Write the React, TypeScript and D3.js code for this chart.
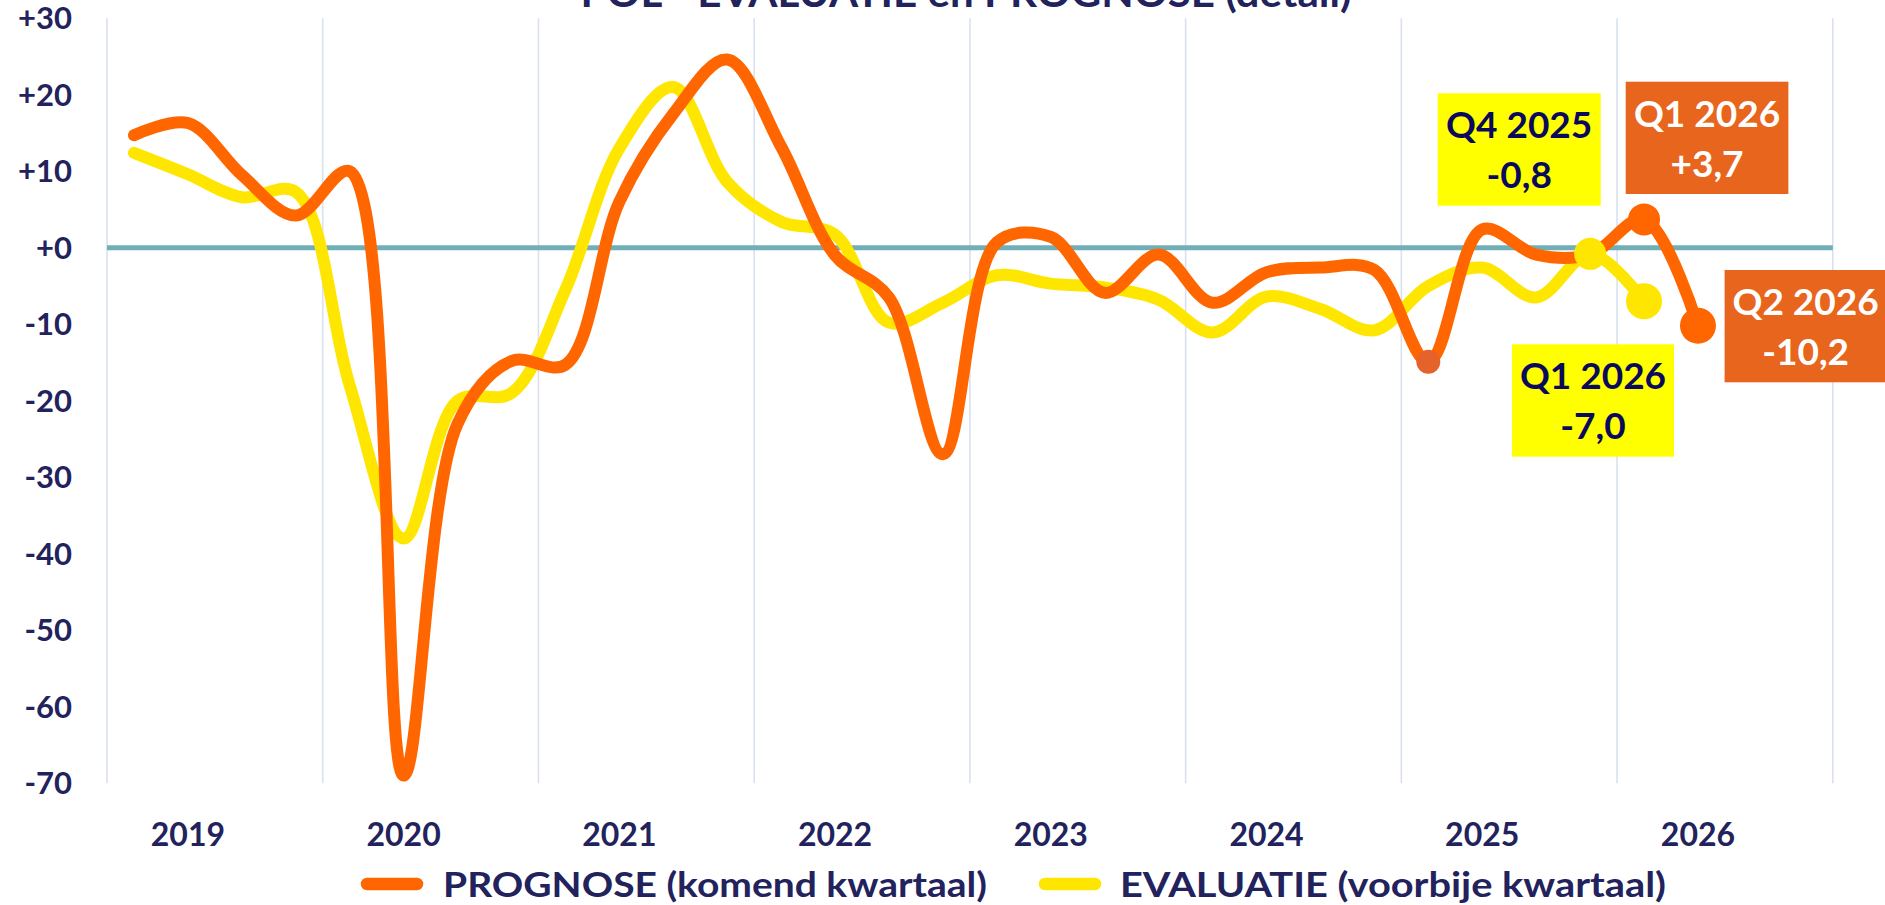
import React from 'react';
import * as d3 from 'd3';

// ---------- DATA ----------
const years = ['2019', '2020', '2021', '2022', '2023', '2024', '2025', '2026'];
const quartersPerYear = 4;
// PROGNOSE (komend kwartaal): Q1 2019 .. Q2 2026
const prognose = [
  14.7, 16.3, 9.5, 4.2,
  10.0, -69.0, -23.0, -14.8,
  -15.3, 6.0, 17.5, 24.6,
  13.2, -1.0, -6.5, -27.0,
  0.7, 1.4, -5.9, -0.9,
  -7.2, -3.2, -2.6, -2.9,
  -14.9, 2.4, -0.9, -0.9,
  3.7, -10.2,
];
// EVALUATIE (voorbije kwartaal): Q1 2019 .. Q1 2026
const evaluatie = [
  12.4, 9.6, 6.6, 7.3,
  -18.0, -38.0, -20.0, -19.0,
  -5.5, 13.0, 21.0, 8.6,
  3.4, 1.7, -9.8, -7.2,
  -3.6, -4.7, -5.2, -6.8,
  -11.1, -6.4, -8.0, -10.8,
  -5.0, -2.6, -6.5, -0.8,
  -7.0,
];
const yTicks = [30, 20, 10, 0, -10, -20, -30, -40, -50, -60, -70];
const titleText = 'POL - EVALUATIE en PROGNOSE (detail)';
const legendLabels = ['PROGNOSE (komend kwartaal)', 'EVALUATIE (voorbije kwartaal)'];
const calloutTexts = [
  ['Q4 2025', '-0,8'],
  ['Q1 2026', '+3,7'],
  ['Q2 2026', '-10,2'],
  ['Q1 2026', '-7,0'],
];
const markerIdx = { prognose: [24, 28, 29], evaluatie: [27, 28] };

// ---------- LAYOUT / STYLE ----------
const W = 1885, H = 905;
const plot = { left: 107, right: 1832.8, top: 18.2, bottom: 783.2 };
const navy = '#22225C';
const orange = '#FF6600';
const yellow = '#FFE600';
const boxOrange = '#E8651E';
const boxYellow = '#FFFF00';
const font = 'Lato, "Open Sans", sans-serif';
const calloutLayout = [
  { x: 1437.7, y: 93.3, w: 163, h: 112.4, fill: boxYellow, color: '#0A0A5C' },
  { x: 1625.7, y: 81.7, w: 162.7, h: 112.3, fill: boxOrange, color: '#FFFFFF' },
  { x: 1724.6, y: 270, w: 162, h: 112.3, fill: boxOrange, color: '#FFFFFF' },
  { x: 1512, y: 344.3, w: 162, h: 112.4, fill: boxYellow, color: '#0A0A5C' },
];
const markerR = { prognose: [12, 16, 18], evaluatie: [16, 18] };
const markerFill = { prognose: ['#E5622A', orange, orange], evaluatie: [yellow, yellow] };

export default function App() {
  const nCats = years.length * quartersPerYear;
  const x = d3.scaleLinear().domain([0, nCats]).range([plot.left, plot.right]);
  const y = d3.scaleLinear().domain([-70, 30]).range([plot.bottom, plot.top]);
  const line = d3
    .line<number>()
    .x((_, i) => x(i + 0.5))
    .y((d) => y(d))
    .curve(d3.curveCatmullRom.alpha(0.5));

  const fmt = (v: number) => (v >= 0 ? '+' + v : '-' + Math.abs(v));

  return (
    <svg
      width={W}
      height={H}
      style={{ position: 'absolute', left: 0, top: 0, background: '#fff' }}
      fontFamily={font}
      fontWeight="bold"
    >
      <defs>
        <clipPath id="plotClip">
          <rect x={plot.left - 20} y={plot.top - 20} width={plot.right - plot.left + 40} height={plot.bottom - plot.top + 20} />
        </clipPath>
      </defs>
      <rect x={0} y={0} width={W} height={H} fill="#fff" />

      {/* title (cut off at top) */}
      <text x={966} y={7} textAnchor="middle" fontSize={40} fill={navy} textLength={771} lengthAdjust="spacingAndGlyphs">
        {titleText}
      </text>

      {/* vertical gridlines at year boundaries */}
      {d3.range(0, nCats + 1, quartersPerYear).map((q) => (
        <line key={q} x1={x(q)} x2={x(q)} y1={plot.top} y2={plot.bottom} stroke="#D9E1F0" strokeWidth={1.6} />
      ))}

      {/* zero line */}
      <line x1={plot.left} x2={plot.right} y1={y(0)} y2={y(0)} stroke="#71AFB8" strokeWidth={5} />

      {/* y axis labels */}
      {yTicks.map((t) => (
        <text key={t} x={72} y={y(t)} dy="0.36em" textAnchor="end" fontSize={31} fill={navy}>
          {fmt(t)}
        </text>
      ))}

      {/* x axis labels at Q2 of each year */}
      {years.map((yr, k) => (
        <text key={yr} x={x(k * quartersPerYear + 1.5)} y={846} textAnchor="middle" fontSize={32} fill={navy}>
          {yr}
        </text>
      ))}

      <g clipPath="url(#plotClip)">
        <path d={line(evaluatie) || ''} fill="none" stroke={yellow} strokeWidth={12} strokeLinejoin="round" strokeLinecap="round" />
        <path d={line(prognose) || ''} fill="none" stroke={orange} strokeWidth={12} strokeLinejoin="round" strokeLinecap="round" />
      </g>

      {/* markers */}
      {markerIdx.evaluatie.map((i, k) => (
        <circle key={'e' + i} cx={x(i + 0.5)} cy={y(evaluatie[i])} r={markerR.evaluatie[k]} fill={markerFill.evaluatie[k]} />
      ))}
      {markerIdx.prognose.map((i, k) => (
        <circle key={'p' + i} cx={x(i + 0.5)} cy={y(prognose[i])} r={markerR.prognose[k]} fill={markerFill.prognose[k]} />
      ))}

      {/* callouts */}
      {calloutTexts.map((lines, k) => {
        const L = calloutLayout[k];
        const cx = L.x + L.w / 2;
        return (
          <g key={k}>
            <rect x={L.x} y={L.y} width={L.w} height={L.h} fill={L.fill} />
            <text x={cx} y={L.y + 45} textAnchor="middle" fontSize={37} fill={L.color}>
              {lines[0]}
            </text>
            <text x={cx} y={L.y + 95} textAnchor="middle" fontSize={37} fill={L.color}>
              {lines[1]}
            </text>
          </g>
        );
      })}

      {/* legend */}
      <line x1={367} x2={417} y1={884} y2={884} stroke={orange} strokeWidth={12.5} strokeLinecap="round" />
      <text x={443} y={897} fontSize={35} fill={navy} textLength={544} lengthAdjust="spacingAndGlyphs">
        {legendLabels[0]}
      </text>
      <line x1={1045} x2={1095} y1={884} y2={884} stroke={yellow} strokeWidth={12.5} strokeLinecap="round" />
      <text x={1120} y={897} fontSize={35} fill={navy} textLength={546} lengthAdjust="spacingAndGlyphs">
        {legendLabels[1]}
      </text>
    </svg>
  );
}
